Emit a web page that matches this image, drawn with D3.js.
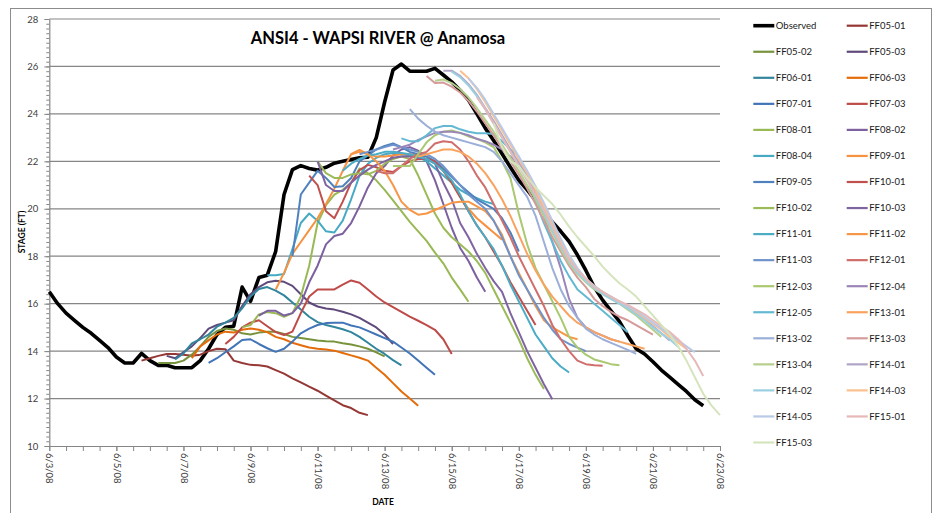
<!DOCTYPE html>
<html><head><meta charset="utf-8">
<script src="https://cdn.jsdelivr.net/npm/d3@7"></script>
<style>
body{margin:0;background:#fff;}
svg{display:block;font-family:Lato,"Liberation Sans",sans-serif;}
</style>
</head><body>
<svg id="chart" width="935" height="513"></svg>
<script>
// ---------- DATA ----------
const stepHours = 6;
const seriesNames = ["Observed","FF05-01","FF05-02","FF05-03","FF06-01","FF06-03","FF07-01","FF07-03",
  "FF08-01","FF08-02","FF08-04","FF09-01","FF09-05","FF10-01","FF10-02","FF10-03","FF11-01","FF11-02",
  "FF11-03","FF12-01","FF12-03","FF12-04","FF12-05","FF13-01","FF13-02","FF13-03","FF13-04","FF14-01",
  "FF14-02","FF14-03","FF14-05","FF15-01","FF15-03"];
const seriesStarts = ["2008-06-03T00","2008-06-05T18","2008-06-06T06","2008-06-06T12","2008-06-06T18","2008-06-07T06",
  "2008-06-07T18","2008-06-08T06","2008-06-08T18","2008-06-09T06","2008-06-09T12","2008-06-09T18","2008-06-10T06",
  "2008-06-10T18","2008-06-11T00","2008-06-11T00","2008-06-11T18","2008-06-12T00","2008-06-12T06","2008-06-12T18",
  "2008-06-13T06","2008-06-13T06","2008-06-13T12","2008-06-14T00","2008-06-13T18","2008-06-14T06","2008-06-14T12",
  "2008-06-14T18","2008-06-15T00","2008-06-15T06","2008-06-15T12","2008-06-15T18","2008-06-16T06"];

const observed = [16.5,16.0,15.6,15.3, 15.0,14.75,14.45,14.15, 13.75,13.5,13.5,13.9, 13.6,13.4,13.4,13.3,
  13.3,13.3,13.6,14.1, 14.7,15.0,15.05,16.7, 16.1,17.1,17.2,18.2, 20.6,21.65,21.82,21.7, 21.63,21.75,21.92,22.0,
  22.08,22.15,22.17,23.0, 24.5,25.85,26.1,25.8, 25.8,25.8,25.92,25.64, 25.35,25.0,24.58,24.0, 23.4,22.88,22.32,21.75,
  21.2,20.8,20.35,19.85, 19.45,19.05,18.62,18.05, 17.4,16.7,16.15,15.7, 15.25,14.65,14.1,13.88, 13.55,13.2,12.9,12.6,
  12.3,11.95,11.7];
const ff05_01 = [13.6,13.7,13.8,13.88,13.88,13.85,13.8,13.85,14.0,14.1,14.08,13.6,13.5,13.42,13.4,13.35,13.2,13.05,12.85,12.68,12.5,12.33,12.12,11.92,11.72,11.6,11.4,11.3];
const ff05_02 = [13.5,13.5,13.5,13.6,13.85,14.2,14.6,14.85,14.95,14.9,14.75,14.7,14.78,14.82,14.82,14.72,14.6,14.55,14.5,14.45,14.42,14.4,14.33,14.28,14.2,14.1,13.95,13.78];
const ff05_03 = [13.8,13.7,13.95,14.2,14.55,14.95,15.1,15.2,15.3,15.9,16.4,16.7,16.9,16.97,16.92,16.75,16.4,16.05,15.88,15.8,15.75,15.66,15.55,15.4,15.2,15.0,14.7,14.3];
const ff06_01 = [13.65,13.9,14.33,14.5,14.7,15.03,15.2,15.4,15.8,16.3,16.62,16.7,16.55,16.35,16.05,15.75,15.45,15.22,15.1,15.02,14.92,14.8,14.6,14.35,14.1,13.88,13.62,13.4];
const ff06_03 = [13.7,14.2,14.45,14.7,14.82,14.78,14.9,14.95,14.9,14.8,14.6,14.5,14.35,14.25,14.15,14.1,14.07,14.02,13.92,13.82,13.72,13.6,13.3,13.0,12.65,12.3,12.0,11.7];
const ff07_01 = [13.5,13.7,13.95,14.2,14.47,14.5,14.3,14.12,13.97,14.1,14.4,14.75,14.95,15.1,15.18,15.2,15.2,15.08,15.0,14.85,14.7,14.55,14.4,14.15,13.9,13.6,13.3,13.0];
const ff07_03 = [14.3,14.6,15.0,15.2,15.3,15.05,14.8,14.68,14.82,15.6,16.3,16.6,16.6,16.6,16.8,16.98,16.88,16.6,16.3,16.05,15.85,15.65,15.45,15.28,15.1,14.9,14.5,13.88];
const ff08_01 = [15.0,15.1,15.55,15.65,15.6,15.45,15.6,16.3,17.6,19.4,20.15,20.6,20.8,21.1,21.7,21.5,21.2,20.8,20.35,19.9,19.45,19.05,18.65,18.15,17.7,17.1,16.6,16.08];
const ff08_02 = [15.5,15.7,15.7,15.5,15.6,16.0,16.9,17.6,18.5,18.85,18.95,19.4,20.1,20.9,21.5,21.8,22.25,22.5,22.6,22.45,22.0,21.2,20.2,19.2,18.35,17.8,17.1,16.5];
const ff08_04 = [17.2,17.2,17.25,18.3,19.4,19.8,19.5,19.05,19.0,19.5,20.4,21.4,21.9,22.15,22.3,22.35,22.3,22.25,22.2,22.0,21.7,21.4,21.1,20.8,20.6,20.45,20.3,20.2];
const ff09_01 = [16.6,17.3,18.1,18.6,19.1,19.6,20.2,20.85,21.6,22.3,22.48,22.3,22.2,22.2,22.25,22.3,22.3,22.3,22.2,22.0,21.6,21.1,20.5,20.0,19.6,19.3,19.0,18.7];
const ff09_05 = [18.0,20.6,21.1,21.6,21.3,20.92,20.95,21.3,22.0,22.25,22.5,22.65,22.75,22.6,22.4,22.3,22.2,22.0,21.7,21.35,21.0,20.7,20.4,20.2,20.0,19.6,19.0,18.2];
const ff10_01 = [21.4,21.0,19.9,19.6,20.3,21.1,21.63,21.85,21.75,21.6,21.55,21.8,22.0,22.1,22.1,22.0,21.6,21.1,20.5,19.9,19.3,18.8,18.2,17.6,16.9,16.3,15.7,15.1];
const ff10_02 = [22.0,21.5,21.3,21.3,21.45,21.5,21.45,21.6,21.9,22.1,22.2,22.1,21.4,20.6,19.8,19.2,18.8,18.5,18.2,17.8,17.3,16.6,15.9,15.2,14.5,13.7,13.0,12.4];
const ff10_03 = [22.0,21.0,20.75,20.75,21.1,21.4,21.65,21.85,22.0,22.15,22.2,22.2,22.15,22.1,21.9,21.1,20.4,19.4,18.8,18.1,17.5,16.95,16.5,15.6,14.8,14.0,13.3,12.6,11.97];
const ff11_01 = [21.6,21.9,22.1,22.25,22.3,22.4,22.4,22.35,22.3,22.2,22.1,21.9,21.6,21.2,20.6,19.9,19.3,18.8,18.3,17.6,16.8,16.1,15.4,14.7,14.2,13.7,13.35,13.1];
const ff11_02 = [22.3,22.4,22.3,22.0,21.6,21.0,20.3,19.95,19.75,19.8,19.95,20.1,20.25,20.3,20.3,20.1,19.9,19.5,18.9,18.0,17.3,16.6,15.9,15.3,15.0,14.8,14.6,14.5];
const ff11_03 = [22.3,22.4,22.5,22.6,22.7,22.6,22.5,22.4,22.3,22.1,21.8,21.4,21.0,20.6,20.3,20.0,19.5,18.8,18.0,17.2,16.6,16.0,15.4,14.9,14.5,14.3,14.15,14.0];
const ff12_01 = [21.6,21.5,21.5,21.8,22.1,22.3,22.4,22.75,22.85,22.8,22.5,22.0,21.4,20.9,20.2,19.5,18.8,18.0,17.3,16.6,15.9,15.1,14.5,14.0,13.6,13.45,13.4,13.38];
const ff12_03 = [21.8,21.8,21.8,22.3,22.8,23.1,23.25,23.3,23.2,23.05,22.95,22.8,22.6,22.0,21.3,19.8,18.5,17.5,16.8,16.1,15.4,14.6,14.15,13.85,13.65,13.55,13.45,13.4];
const ff12_04 = [22.5,22.6,22.7,22.9,23.05,23.2,23.25,23.25,23.2,23.1,22.95,22.85,22.7,22.5,22.2,21.9,21.4,20.7,19.7,18.6,17.5,16.2,15.4,15.0,14.8,14.65,14.5,14.4];
const ff12_05 = [22.97,22.85,22.85,23.1,23.4,23.49,23.49,23.35,23.25,23.18,23.18,23.15,22.85,22.5,22.2,21.4,20.3,19.4,18.6,17.8,17.15,16.6,16.3,16.0,15.7,15.4,15.1,14.8];
const ff13_01 = [22.2,22.3,22.4,22.5,22.5,22.4,22.2,21.9,21.5,21.0,20.4,19.7,18.9,18.1,17.4,16.8,16.3,15.9,15.5,15.2,15.0,14.8,14.65,14.5,14.4,14.3,14.2,14.1];
const ff13_02 = [24.2,23.8,23.5,23.25,23.1,23.0,22.9,22.8,22.7,22.6,22.4,22.0,21.5,21.0,20.5,19.7,18.6,17.5,16.6,15.9,15.4,14.95,14.7,14.5,14.35,14.2,14.05,13.88];
const ff13_03 = [25.6,25.3,25.32,25.15,24.9,24.55,24.1,23.6,23.1,22.55,22.0,21.45,20.85,20.2,19.5,18.8,18.2,17.6,17.1,16.7,16.2,15.9,15.65,15.45,15.3,15.1,14.9,14.7];
const ff13_04 = [25.4,25.45,25.3,25.05,24.7,24.25,23.75,23.25,22.7,22.15,21.6,21.0,20.4,19.7,19.0,18.3,17.7,17.25,16.9,16.6,16.4,16.2,16.0,15.75,15.5,15.2,14.9,14.6];
const ff14_01 = [25.82,25.82,25.6,25.25,24.8,24.25,23.7,23.1,22.5,21.95,21.35,20.7,20.0,19.2,18.5,17.9,17.4,17.0,16.7,16.45,16.25,16.05,15.85,15.6,15.35,15.05,14.75,14.45];
const ff14_02 = [25.78,25.55,25.2,24.75,24.2,23.6,23.0,22.4,21.8,21.2,20.55,19.85,19.1,18.4,17.8,17.3,16.95,16.65,16.4,16.2,16.0,15.8,15.55,15.3,15.0,14.75,14.5,14.18];
const ff14_03 = [25.82,25.5,25.05,24.5,23.9,23.3,22.7,22.1,21.5,20.8,20.1,19.35,18.6,17.95,17.45,17.05,16.75,16.5,16.3,16.1,15.9,15.65,15.4,15.15,14.9,14.6,14.35,14.1];
const ff14_05 = [25.5,25.1,24.6,24.0,23.4,22.8,22.2,21.6,20.95,20.25,19.5,18.75,18.05,17.5,17.05,16.75,16.5,16.3,16.1,15.9,15.7,15.45,15.2,14.95,14.7,14.45,14.2,13.95];
const ff15_01 = [24.7,24.2,23.6,23.0,22.4,21.8,21.2,20.6,19.95,19.25,18.5,17.85,17.4,17.05,16.7,16.5,16.28,16.1,15.95,15.75,15.55,15.3,15.05,14.8,14.5,14.1,13.6,12.95];
const ff15_03 = [23.6,22.6,22.0,21.8,21.3,20.9,20.55,20.2,19.75,19.25,18.8,18.4,18.0,17.56,17.2,16.86,16.6,16.3,15.9,15.5,15.1,14.7,14.2,13.6,12.9,12.2,11.7,11.3];

const seriesValues = [observed, ff05_01, ff05_02, ff05_03, ff06_01, ff06_03, ff07_01, ff07_03, ff08_01, ff08_02,
  ff08_04, ff09_01, ff09_05, ff10_01, ff10_02, ff10_03, ff11_01, ff11_02, ff11_03, ff12_01, ff12_03, ff12_04,
  ff12_05, ff13_01, ff13_02, ff13_03, ff13_04, ff14_01, ff14_02, ff14_03, ff14_05, ff15_01, ff15_03];

const seriesColors = ["#000000","#953735","#77933C","#604A7B","#31859C","#E46C0A","#4274B8","#BE4B48",
  "#98B954","#7D60A0","#46AAC5","#F69240","#4F81BD","#C0504D","#9BBB59","#8064A2","#4BACC6","#F79646",
  "#6F93CB","#D06E6B","#AAC870","#9A85B8","#64B9D2","#F9A35E","#9CAFD8","#D59B9A","#B6CF8E","#B1A4C9",
  "#9BD0E0","#FAC08F","#B9CAE6","#E6B9B8","#D6E4BD"];

const yTicks = [10,12,14,16,18,20,22,24,26,28];
const xTickDates = ["2008-06-03","2008-06-05","2008-06-07","2008-06-09","2008-06-11","2008-06-13",
  "2008-06-15","2008-06-17","2008-06-19","2008-06-21","2008-06-23"];
const titleText = "ANSI4 - WAPSI RIVER @ Anamosa";
const yTitle = "STAGE (FT)";
const xTitle = "DATE";

// ---------- CHART ----------
const svg = d3.select("#chart");
const parseHour = d3.utcParse("%Y-%m-%dT%H");
const parseDay = d3.utcParse("%Y-%m-%d");
const plot = {left: 49.3, right: 720, top: 19, bottom: 446};
const grid = "#868686";

svg.append("rect").attr("x",10.5).attr("y",8.5).attr("width",921).attr("height",520)
  .attr("fill","#fff").attr("stroke","#8c8c8c").attr("stroke-width",1);

const xDomain = [parseDay(xTickDates[0]), parseDay(xTickDates[xTickDates.length-1])];
const x = d3.scaleUtc().domain(xDomain).range([plot.left, plot.right]);
const y = d3.scaleLinear().domain([10,28]).range([plot.bottom, plot.top]);

// gridlines
svg.append("g").selectAll("line").data(yTicks.filter(t => t > 10)).join("line")
  .attr("x1", plot.left).attr("x2", plot.right)
  .attr("y1", d => y(d)).attr("y2", d => y(d))
  .attr("stroke", grid).attr("stroke-width", 1.2);

// y axis minor ticks
const yMinor = d3.range(10, 28.001, 0.2);
const gyMinor = svg.append("g").attr("transform", `translate(${plot.left},0)`)
  .call(d3.axisLeft(y).tickValues(yMinor).tickSize(3).tickFormat(""));
gyMinor.select(".domain").remove();
gyMinor.selectAll("line").attr("stroke", grid);

const gy = svg.append("g").attr("transform", `translate(${plot.left},0)`)
  .call(d3.axisLeft(y).tickValues(yTicks).tickSize(5).tickPadding(6).tickSizeOuter(0));
gy.select(".domain").attr("stroke", grid).attr("stroke-width",1.2);
gy.selectAll("line").attr("stroke", grid);
gy.selectAll("text").attr("font-size", 9.5).attr("fill", "#404040").attr("font-family","Lato,sans-serif");

// x axis
const xMinor = d3.utcHour.every(12).range(xDomain[0], new Date(xDomain[1].getTime()+1));
const gxMinor = svg.append("g").attr("transform", `translate(0,${plot.bottom})`)
  .call(d3.axisBottom(x).tickValues(xMinor).tickSize(5).tickFormat(""));
gxMinor.select(".domain").remove();
gxMinor.selectAll("line").attr("stroke", grid);

const gx = svg.append("g").attr("transform", `translate(0,${plot.bottom})`)
  .call(d3.axisBottom(x).tickValues(xTickDates.map(parseDay)).tickSize(5).tickSizeOuter(0)
    .tickFormat(d3.utcFormat("%-m/%-d/%y")));
gx.select(".domain").attr("stroke", grid).attr("stroke-width",1.2);
gx.selectAll("line").attr("stroke", grid);
gx.selectAll("text").attr("font-size", 9.5).attr("fill", "#404040").attr("font-family","Lato,sans-serif")
  .attr("transform","rotate(90)").attr("x", 7).attr("y", 0).attr("dy","0.35em")
  .style("text-anchor","start");

// titles
svg.append("text").attr("x", 378).attr("y", 43.5).attr("text-anchor","middle")
  .attr("font-size", 16.5).attr("font-weight","bold").attr("fill","#000").text(titleText);
svg.append("text").attr("transform","translate(24.5,232) rotate(-90)").attr("text-anchor","middle")
  .attr("font-size", 8.5).attr("font-weight","bold").attr("fill","#000").text(yTitle);
svg.append("text").attr("x", 383).attr("y", 505).attr("text-anchor","middle")
  .attr("font-size", 8.5).attr("font-weight","bold").attr("fill","#000").text(xTitle);

// series
const series = seriesNames.map((name, i) => {
  const t0 = parseHour(seriesStarts[i]).getTime();
  return {name, color: seriesColors[i],
    points: seriesValues[i].map((v, k) => ({t: new Date(t0 + k*stepHours*3600e3), v}))};
});
const line = d3.line().x(d => x(d.t)).y(d => y(d.v));
svg.append("g").selectAll("path").data(series).join("path")
  .attr("d", d => line(d.points))
  .attr("fill","none")
  .attr("stroke", d => d.color)
  .attr("stroke-width", (d,i) => i === 0 ? 3.6 : 2)
  .attr("stroke-linejoin","round");

// legend
const leg = svg.append("g");
series.forEach((s, i) => {
  const col = i % 2, row = Math.floor(i / 2);
  const lx = col === 0 ? 753.3 : 846.7;
  const ly = 25.7 + row * 26.05;
  leg.append("line").attr("x1", lx).attr("x2", lx + 21).attr("y1", ly).attr("y2", ly)
    .attr("stroke", s.color).attr("stroke-width", i === 0 ? 3.6 : 2.2);
  leg.append("text").attr("x", lx + 22.5).attr("y", ly).attr("dy","0.35em")
    .attr("font-size", 9.5).attr("fill","#1a1a1a").text(s.name);
});
</script>
</body></html>
